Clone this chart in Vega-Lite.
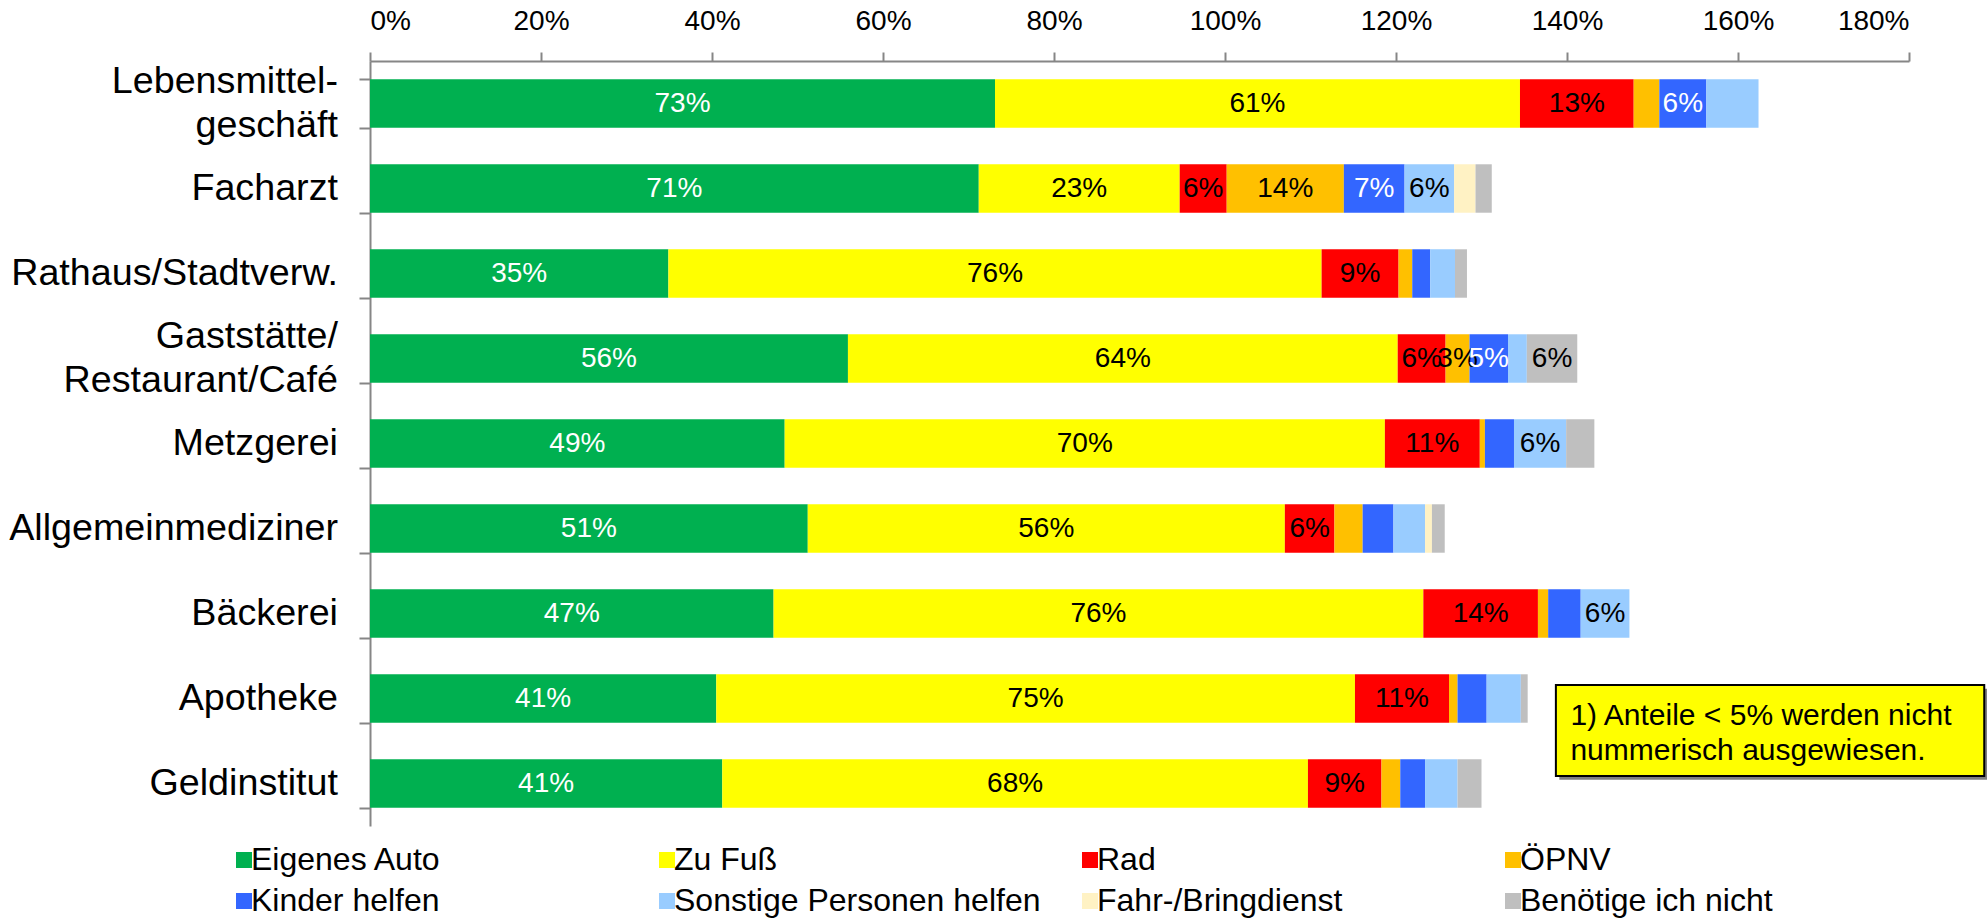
{
  "$schema": "https://vega.github.io/schema/vega-lite/v6.json",
  "autosize": {"type": "none"},
  "padding": {"left": 370, "top": 61, "right": 78, "bottom": 96},
  "width": 1539,
  "height": 765,
  "config": {"font": "Liberation Sans", "view": {"stroke": null}},
  "data": {"values": [
    {"c": "Lebensmittel-\ngeschäft", "m": "Eigenes Auto", "k": 1, "v": 73.1, "l": "73%"},
    {"c": "Lebensmittel-\ngeschäft", "m": "Zu Fuß", "k": 2, "v": 61.4, "l": "61%"},
    {"c": "Lebensmittel-\ngeschäft", "m": "Rad", "k": 3, "v": 13.3, "l": "13%"},
    {"c": "Lebensmittel-\ngeschäft", "m": "ÖPNV", "k": 4, "v": 3.0, "l": ""},
    {"c": "Lebensmittel-\ngeschäft", "m": "Kinder helfen", "k": 5, "v": 5.5, "l": "6%"},
    {"c": "Lebensmittel-\ngeschäft", "m": "Sonstige Personen helfen", "k": 6, "v": 6.1, "l": ""},
    {"c": "Facharzt", "m": "Eigenes Auto", "k": 1, "v": 71.2, "l": "71%"},
    {"c": "Facharzt", "m": "Zu Fuß", "k": 2, "v": 23.5, "l": "23%"},
    {"c": "Facharzt", "m": "Rad", "k": 3, "v": 5.5, "l": "6%"},
    {"c": "Facharzt", "m": "ÖPNV", "k": 4, "v": 13.7, "l": "14%"},
    {"c": "Facharzt", "m": "Kinder helfen", "k": 5, "v": 7.1, "l": "7%"},
    {"c": "Facharzt", "m": "Sonstige Personen helfen", "k": 6, "v": 5.8, "l": "6%"},
    {"c": "Facharzt", "m": "Fahr-/Bringdienst", "k": 7, "v": 2.5, "l": ""},
    {"c": "Facharzt", "m": "Benötige ich nicht", "k": 8, "v": 1.9, "l": ""},
    {"c": "Rathaus/Stadtverw.", "m": "Eigenes Auto", "k": 1, "v": 34.9, "l": "35%"},
    {"c": "Rathaus/Stadtverw.", "m": "Zu Fuß", "k": 2, "v": 76.4, "l": "76%"},
    {"c": "Rathaus/Stadtverw.", "m": "Rad", "k": 3, "v": 9.0, "l": "9%"},
    {"c": "Rathaus/Stadtverw.", "m": "ÖPNV", "k": 4, "v": 1.6, "l": ""},
    {"c": "Rathaus/Stadtverw.", "m": "Kinder helfen", "k": 5, "v": 2.1, "l": ""},
    {"c": "Rathaus/Stadtverw.", "m": "Sonstige Personen helfen", "k": 6, "v": 2.9, "l": ""},
    {"c": "Rathaus/Stadtverw.", "m": "Benötige ich nicht", "k": 8, "v": 1.4, "l": ""},
    {"c": "Gaststätte/\nRestaurant/Café", "m": "Eigenes Auto", "k": 1, "v": 55.9, "l": "56%"},
    {"c": "Gaststätte/\nRestaurant/Café", "m": "Zu Fuß", "k": 2, "v": 64.3, "l": "64%"},
    {"c": "Gaststätte/\nRestaurant/Café", "m": "Rad", "k": 3, "v": 5.6, "l": "6%"},
    {"c": "Gaststätte/\nRestaurant/Café", "m": "ÖPNV", "k": 4, "v": 2.8, "l": "3%"},
    {"c": "Gaststätte/\nRestaurant/Café", "m": "Kinder helfen", "k": 5, "v": 4.5, "l": "5%"},
    {"c": "Gaststätte/\nRestaurant/Café", "m": "Sonstige Personen helfen", "k": 6, "v": 2.2, "l": ""},
    {"c": "Gaststätte/\nRestaurant/Café", "m": "Benötige ich nicht", "k": 8, "v": 5.9, "l": "6%"},
    {"c": "Metzgerei", "m": "Eigenes Auto", "k": 1, "v": 48.5, "l": "49%"},
    {"c": "Metzgerei", "m": "Zu Fuß", "k": 2, "v": 70.2, "l": "70%"},
    {"c": "Metzgerei", "m": "Rad", "k": 3, "v": 11.1, "l": "11%"},
    {"c": "Metzgerei", "m": "ÖPNV", "k": 4, "v": 0.6, "l": ""},
    {"c": "Metzgerei", "m": "Kinder helfen", "k": 5, "v": 3.4, "l": ""},
    {"c": "Metzgerei", "m": "Sonstige Personen helfen", "k": 6, "v": 6.1, "l": "6%"},
    {"c": "Metzgerei", "m": "Benötige ich nicht", "k": 8, "v": 3.3, "l": ""},
    {"c": "Allgemeinmediziner", "m": "Eigenes Auto", "k": 1, "v": 51.2, "l": "51%"},
    {"c": "Allgemeinmediziner", "m": "Zu Fuß", "k": 2, "v": 55.8, "l": "56%"},
    {"c": "Allgemeinmediziner", "m": "Rad", "k": 3, "v": 5.8, "l": "6%"},
    {"c": "Allgemeinmediziner", "m": "ÖPNV", "k": 4, "v": 3.3, "l": ""},
    {"c": "Allgemeinmediziner", "m": "Kinder helfen", "k": 5, "v": 3.6, "l": ""},
    {"c": "Allgemeinmediziner", "m": "Sonstige Personen helfen", "k": 6, "v": 3.7, "l": ""},
    {"c": "Allgemeinmediziner", "m": "Fahr-/Bringdienst", "k": 7, "v": 0.8, "l": ""},
    {"c": "Allgemeinmediziner", "m": "Benötige ich nicht", "k": 8, "v": 1.5, "l": ""},
    {"c": "Bäckerei", "m": "Eigenes Auto", "k": 1, "v": 47.2, "l": "47%"},
    {"c": "Bäckerei", "m": "Zu Fuß", "k": 2, "v": 76.0, "l": "76%"},
    {"c": "Bäckerei", "m": "Rad", "k": 3, "v": 13.4, "l": "14%"},
    {"c": "Bäckerei", "m": "ÖPNV", "k": 4, "v": 1.2, "l": ""},
    {"c": "Bäckerei", "m": "Kinder helfen", "k": 5, "v": 3.8, "l": ""},
    {"c": "Bäckerei", "m": "Sonstige Personen helfen", "k": 6, "v": 5.7, "l": "6%"},
    {"c": "Apotheke", "m": "Eigenes Auto", "k": 1, "v": 40.5, "l": "41%"},
    {"c": "Apotheke", "m": "Zu Fuß", "k": 2, "v": 74.7, "l": "75%"},
    {"c": "Apotheke", "m": "Rad", "k": 3, "v": 11.0, "l": "11%"},
    {"c": "Apotheke", "m": "ÖPNV", "k": 4, "v": 1.0, "l": ""},
    {"c": "Apotheke", "m": "Kinder helfen", "k": 5, "v": 3.4, "l": ""},
    {"c": "Apotheke", "m": "Sonstige Personen helfen", "k": 6, "v": 4.0, "l": ""},
    {"c": "Apotheke", "m": "Benötige ich nicht", "k": 8, "v": 0.8, "l": ""},
    {"c": "Geldinstitut", "m": "Eigenes Auto", "k": 1, "v": 41.2, "l": "41%"},
    {"c": "Geldinstitut", "m": "Zu Fuß", "k": 2, "v": 68.5, "l": "68%"},
    {"c": "Geldinstitut", "m": "Rad", "k": 3, "v": 8.6, "l": "9%"},
    {"c": "Geldinstitut", "m": "ÖPNV", "k": 4, "v": 2.2, "l": ""},
    {"c": "Geldinstitut", "m": "Kinder helfen", "k": 5, "v": 2.9, "l": ""},
    {"c": "Geldinstitut", "m": "Sonstige Personen helfen", "k": 6, "v": 3.8, "l": ""},
    {"c": "Geldinstitut", "m": "Benötige ich nicht", "k": 8, "v": 2.8, "l": ""}
  ]},
  "layer": [
    {
      "mark": {"type": "bar"},
      "encoding": {
        "y": {
          "field": "c", "type": "nominal",
          "sort": ["Lebensmittel-\ngeschäft", "Facharzt", "Rathaus/Stadtverw.", "Gaststätte/\nRestaurant/Café", "Metzgerei", "Allgemeinmediziner", "Bäckerei", "Apotheke", "Geldinstitut"],
          "scale": {"paddingInner": 0.43, "paddingOuter": 0.215},
          "axis": {
            "title": null,
            "labels": false,
            "tickBand": "extent",
            "tickSize": 11,
            "tickWidth": 2,
            "tickColor": "#868686",
            "domainColor": "#868686",
            "domainWidth": 2
          }
        },
        "x": {
          "field": "v", "type": "quantitative", "stack": "zero",
          "scale": {"domain": [0, 180], "nice": false},
          "axis": {
            "orient": "top",
            "title": null,
            "values": [0, 20, 40, 60, 80, 100, 120, 140, 160, 180],
            "labelExpr": "datum.value + '%'",
            "labelFontSize": 28,
            "labelColor": "black",
            "labelPadding": 17,
            "tickSize": 9,
            "tickWidth": 2,
            "tickColor": "#868686",
            "domainColor": "#868686",
            "domainWidth": 2,
            "grid": false
          }
        },
        "color": {
          "field": "m", "type": "nominal",
          "scale": {
            "domain": ["Eigenes Auto", "Zu Fuß", "Rad", "ÖPNV", "Kinder helfen", "Sonstige Personen helfen", "Fahr-/Bringdienst", "Benötige ich nicht"],
            "range": ["#00B050", "#FFFF00", "#FF0000", "#FFC000", "#3366FF", "#99CCFF", "#FFF2C4", "#BFBFBF"]
          },
          "legend": {
            "orient": "none",
            "legendX": -142,
            "legendY": 783,
            "direction": "horizontal",
            "columns": 4,
            "title": null,
            "symbolType": "square",
            "symbolSize": 256,
            "symbolStrokeWidth": 0,
            "labelFontSize": 32,
            "labelColor": "black",
            "labelLimit": 0,
            "labelOffset": -9,
            "columnPadding": 33,
            "rowPadding": 9,
            "gridAlign": "all",
            "padding": 0
          }
        },
        "order": {"field": "k", "type": "quantitative"}
      }
    },
    {
      "transform": [{"filter": "datum.k === 1"}],
      "mark": {
        "type": "text", "align": "right", "baseline": "middle", "fontSize": 37.7, "lineHeight": 44,
        "lineBreak": "\n", "dx": -32, "color": "black",
        "dy": {"expr": "indexof(datum.c, '\\n') >= 0 ? -22 : 0"}
      },
      "encoding": {
        "y": {
          "field": "c", "type": "nominal",
          "sort": ["Lebensmittel-\ngeschäft", "Facharzt", "Rathaus/Stadtverw.", "Gaststätte/\nRestaurant/Café", "Metzgerei", "Allgemeinmediziner", "Bäckerei", "Apotheke", "Geldinstitut"]
        },
        "x": {"datum": 0, "type": "quantitative"},
        "text": {"field": "c"}
      }
    },
    {
      "mark": {"type": "text", "fontSize": 28, "baseline": "middle", "align": "center"},
      "encoding": {
        "y": {
          "field": "c", "type": "nominal",
          "sort": ["Lebensmittel-\ngeschäft", "Facharzt", "Rathaus/Stadtverw.", "Gaststätte/\nRestaurant/Café", "Metzgerei", "Allgemeinmediziner", "Bäckerei", "Apotheke", "Geldinstitut"]
        },
        "x": {"field": "v", "type": "quantitative", "stack": "zero", "bandPosition": 0.5},
        "text": {"field": "l"},
        "color": {
          "condition": {"test": "datum.m === 'Eigenes Auto' || datum.m === 'Kinder helfen'", "value": "white"},
          "value": "black"
        },
        "order": {"field": "k", "type": "quantitative"}
      }
    },
    {
      "data": {"values": [{}]},
      "mark": {"type": "rect", "fill": "#7F7F7F"},
      "encoding": {
        "x": {"datum": 139.1, "type": "quantitative"},
        "x2": {"datum": 189.2},
        "y": {"datum": "Apotheke", "type": "nominal", "bandPosition": 0.3},
        "y2": {"datum": "Geldinstitut", "bandPosition": 0.425}
      }
    },
    {
      "data": {"values": [{}]},
      "mark": {"type": "rect", "fill": "#FFFF00", "stroke": "black", "strokeWidth": 2},
      "encoding": {
        "x": {"datum": 138.7, "type": "quantitative"},
        "x2": {"datum": 188.8},
        "y": {"datum": "Apotheke", "type": "nominal", "bandPosition": 0.22},
        "y2": {"datum": "Geldinstitut", "bandPosition": 0.345}
      }
    },
    {
      "data": {"values": [{}]},
      "mark": {"type": "text", "text": ["1) Anteile < 5% werden nicht", "nummerisch ausgewiesen."], "align": "left", "baseline": "middle", "fontSize": 30, "lineHeight": 35, "color": "black"},
      "encoding": {
        "x": {"datum": 140.4, "type": "quantitative"},
        "y": {"datum": "Apotheke", "type": "nominal", "bandPosition": 0.86}
      }
    }
  ]
}
